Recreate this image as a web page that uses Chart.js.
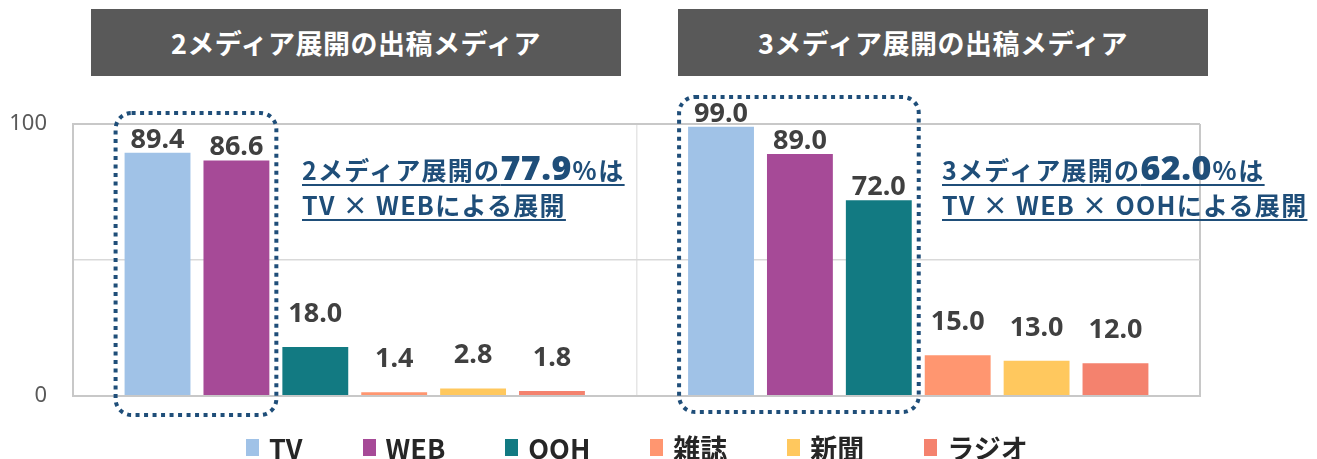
<!DOCTYPE html>
<html lang="ja">
<head>
<meta charset="utf-8">
<script src="https://cdn.jsdelivr.net/npm/chart.js@4.4.1/dist/chart.umd.min.js"></script>
<style>
  body { margin: 0; background: #fff; font-family: "Noto Sans CJK JP", "Noto Sans", sans-serif; }
  #wrap { position: relative; width: 1317px; height: 459px; }
  .panel-title {
    position: absolute; top: 9px; height: 67px; width: 530px;
    background: #595959; color: #fff; font-size: 27px; font-weight: 700;
    display: flex; align-items: center; justify-content: center; letter-spacing: 0.5px;
  }
  .note {
    position: absolute; top: 150px; color: #1F4E79; font-weight: 700; font-size: 25px;
    line-height: 35px; white-space: nowrap; letter-spacing: 1.3px;
  }
  .note span.line { text-decoration: underline; text-decoration-thickness: 2px; text-underline-offset: 4px; }
  .note b { font-family: "Noto Sans", sans-serif; font-size: 34px; letter-spacing: 0.5px; }
  #legend-wrapper {
    position: absolute; left: 246px; top: 428px; display: flex; align-items: center; gap: 60px;
  }
  .legend-item { display: flex; align-items: center; font-size: 27px; font-weight: 700; color: #262626; }
  .legend-color { width: 13px; height: 17px; margin-right: 10px; }
</style>
</head>
<body>
<div id="wrap">
  <canvas id="chart"></canvas>
  <div class="panel-title" style="left:91px;"></div>
  <div class="panel-title" style="left:678px;"></div>
  <div class="note" style="left:302px;"><span class="line">2メディア展開の<b>77.9</b>％は</span><br><span class="line">TV × WEBによる展開</span></div>
  <div class="note" style="left:942px;"><span class="line">3メディア展開の<b>62.0</b>％は</span><br><span class="line">TV × WEB × OOHによる展開</span></div>
  <div id="legend-wrapper"></div>
</div>
<script>
const categories = ['2メディア展開', '3メディア展開'];
const panelTitles = ['2メディア展開の出稿メディア', '3メディア展開の出稿メディア'];
const seriesNames = ['TV', 'WEB', 'OOH', '雑誌', '新聞', 'ラジオ'];
const tvValues = [89.4, 99.0];
const webValues = [86.6, 89.0];
const oohValues = [18.0, 72.0];
const magazineValues = [1.4, 15.0];
const newspaperValues = [2.8, 13.0];
const radioValues = [1.8, 12.0];
const yTickLabels = [0, 100];

const seriesColors = ['#A0C2E7', '#A64A97', '#127A82', '#FF9670', '#FFC85E', '#F4826E'];
const seriesValues = [tvValues, webValues, oohValues, magazineValues, newspaperValues, radioValues];

document.querySelectorAll('.panel-title').forEach((el, i) => { el.textContent = panelTitles[i]; });

const datasets = seriesNames.map((name, i) => ({
  label: name,
  data: seriesValues[i],
  backgroundColor: seriesColors[i],
  categoryPercentage: 0.84,
  barPercentage: 0.835
}));

// value labels above the bars
const valueLabels = {
  id: 'valueLabels',
  afterDatasetsDraw(chart) {
    const {ctx} = chart;
    ctx.save();
    ctx.font = 'bold 27px "Noto Sans", sans-serif';
    ctx.fillStyle = '#404040';
    ctx.textAlign = 'center';
    ctx.textBaseline = 'alphabetic';
    chart.data.datasets.forEach((ds, di) => {
      chart.getDatasetMeta(di).data.forEach((bar, i) => {
        const v = ds.data[i];
        const gap = v > 50 ? 5 : 25;
        ctx.fillText(v.toFixed(1), bar.x, bar.y - gap);
      });
    });
    ctx.restore();
  }
};

// dotted rounded frames around the main media
const dottedFrames = {
  id: 'dottedFrames',
  afterDatasetsDraw(chart) {
    const {ctx, chartArea} = chart;
    const frames = [
      {index: 0, last: 1, top: chartArea.top - 11, bottom: chartArea.bottom + 19},
      {index: 1, last: 2, top: chartArea.top - 27, bottom: chartArea.bottom + 16}
    ];
    ctx.save();
    ctx.strokeStyle = '#1F4E79';
    ctx.lineWidth = 4;
    ctx.setLineDash([4, 4.5]);
    frames.forEach(f => {
      const first = chart.getDatasetMeta(0).data[f.index];
      const last = chart.getDatasetMeta(f.last).data[f.index];
      const left = first.x - first.width / 2 - 9;
      const right = last.x + last.width / 2 + 7;
      ctx.beginPath();
      ctx.roundRect(left, f.top, right - left, f.bottom - f.top, 16);
      ctx.stroke();
    });
    ctx.restore();
  }
};

const ctx = document.getElementById('chart');
const myChart = new Chart(ctx, {
  type: 'bar',
  data: { labels: categories, datasets: datasets },
  options: {
    responsive: true,
    maintainAspectRatio: false,
    animation: false,
    layout: { padding: { top: 124, right: 117, bottom: 63, left: 0 } },
    plugins: { legend: { display: false }, tooltip: { enabled: false } },
    scales: {
      x: {
        ticks: { display: false },
        grid: {
          offset: true,
          drawTicks: false,
          color: c => c.index === 1 ? '#E6E6E6' : '#C8C8C8',
          lineWidth: c => c.index === 1 ? 1.5 : 2
        },
        border: { display: true, color: '#C8C8C8', width: 2 }
      },
      y: {
        min: 0,
        max: 100,
        afterFit: scale => { scale.width = 73; },
        ticks: {
          stepSize: 50,
          padding: 26,
          color: '#595959',
          font: { family: '"Noto Sans", sans-serif', size: 22 },
          callback: v => yTickLabels.includes(v) ? v : ''
        },
        grid: {
          drawTicks: false,
          color: c => c.tick && c.tick.value === 50 ? '#D9D9D9' : '#C8C8C8',
          lineWidth: c => c.tick && c.tick.value === 50 ? 1.5 : 2
        },
        border: { display: true, color: '#C8C8C8', width: 2 }
      }
    }
  },
  plugins: [valueLabels, dottedFrames]
});

// custom legend
const legendContainer = document.getElementById('legend-wrapper');
datasets.forEach(ds => {
  const item = document.createElement('div');
  item.classList.add('legend-item');
  const box = document.createElement('div');
  box.classList.add('legend-color');
  box.style.backgroundColor = ds.backgroundColor;
  const text = document.createElement('span');
  text.textContent = ds.label;
  item.appendChild(box);
  item.appendChild(text);
  legendContainer.appendChild(item);
});
</script>
</body>
</html>
